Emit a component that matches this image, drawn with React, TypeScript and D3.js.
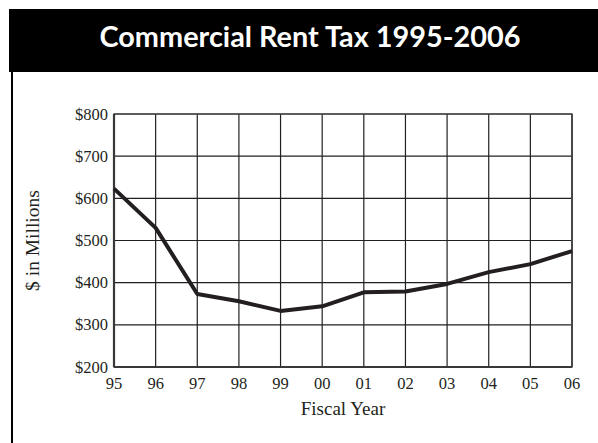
import * as d3 from 'd3';
import * as React from 'react';

const years: string[] = ['95', '96', '97', '98', '99', '00', '01', '02', '03', '04', '05', '06'];
const rentTax: number[] = [623, 530, 373, 356, 333, 344, 377, 379, 397, 425, 444, 475];
const yTicks: number[] = [200, 300, 400, 500, 600, 700, 800];

const title = 'Commercial Rent Tax 1995-2006';

const W = 598;
const H = 443;
const margin = { top: 114, right: 26, bottom: 76, left: 114 };

export default function App() {
  const innerW = W - margin.left - margin.right;
  const innerH = H - margin.top - margin.bottom;

  const x = d3.scalePoint<string>().domain(years).range([0, innerW]);
  const y = d3.scaleLinear().domain([200, 800]).range([innerH, 0]);

  const line = d3.line<number>()
    .x((_, i) => x(years[i]) as number)
    .y(d => y(d));

  const serif = '"Liberation Serif", "Times New Roman", serif';

  return (
    <svg width={W} height={H} style={{ position: 'absolute', left: 0, top: 0, background: '#fff' }}>
      {/* title bar */}
      <rect x={9} y={9} width={W - 9} height={63} fill="#000" />
      <text x={310} y={47} textAnchor="middle" fill="#fff" textLength={421} lengthAdjust="spacingAndGlyphs"
        style={{ font: 'bold 28px Lato, "Open Sans", sans-serif' }}>{title}</text>
      {/* left border */}
      <line x1={12} x2={12} y1={72} y2={H} stroke="#000" strokeWidth={2} />

      <g transform={`translate(${margin.left},${margin.top})`}>
        {/* grid */}
        {yTicks.map(t => (
          <line key={'h' + t} x1={0} x2={innerW} y1={y(t)} y2={y(t)} stroke="#231f20" strokeWidth={1.2} />
        ))}
        {years.map(yr => (
          <line key={'v' + yr} x1={x(yr)} x2={x(yr)} y1={0} y2={innerH} stroke="#231f20" strokeWidth={1.2} />
        ))}
        {/* frame */}
        <rect x={0} y={0} width={innerW} height={innerH} fill="none" stroke="#4a4748" strokeWidth={1.4} />
        <line x1={0} x2={0} y1={0} y2={innerH} stroke="#3a3738" strokeWidth={2.2} />
        <line x1={0} x2={innerW} y1={innerH} y2={innerH} stroke="#3a3738" strokeWidth={2.2} />
        <line x1={innerW} x2={innerW} y1={0} y2={innerH} stroke="#4a4748" strokeWidth={2} />

        {/* data */}
        <path d={line(rentTax) || ''} fill="none" stroke="#231f20" strokeWidth={4} strokeLinejoin="round" />

        {/* y labels */}
        {yTicks.map(t => (
          <text key={'yl' + t} x={-6} y={y(t)} dy="0.34em" textAnchor="end" fill="#231f20"
            style={{ font: `16.5px ${serif}` }}>{'$' + t}</text>
        ))}
        {/* x labels */}
        {years.map(yr => (
          <text key={'xl' + yr} x={x(yr)} y={innerH + 22} textAnchor="middle" fill="#231f20"
            style={{ font: `16.5px ${serif}` }}>{yr}</text>
        ))}
        <text x={innerW / 2} y={innerH + 48} textAnchor="middle" fill="#231f20"
          style={{ font: `19px ${serif}` }}>Fiscal Year</text>
        <text transform={`translate(${-75},${innerH / 2}) rotate(-90)`} textAnchor="middle" fill="#231f20"
          style={{ font: `19.5px ${serif}` }}>$ in Millions</text>
      </g>
    </svg>
  );
}
